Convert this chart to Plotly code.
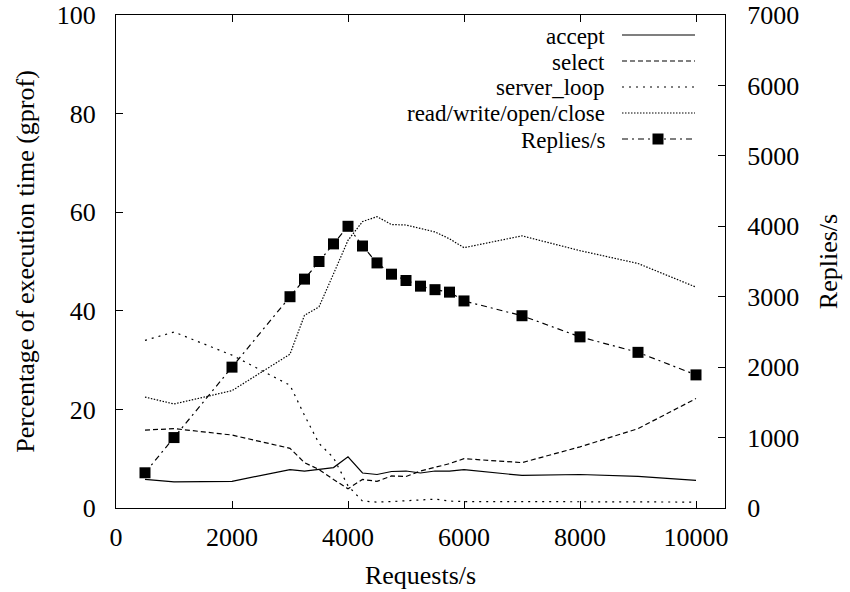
import plotly.graph_objects as go

requests = [500, 1000, 2000, 3000, 3250, 3500, 3750, 4000, 4250, 4500, 4750,
            5000, 5250, 5500, 5750, 6000, 7000, 8000, 9000, 10000]

accept = [5.8, 5.3, 5.4, 7.8, 7.5, 7.8, 8.2, 10.4, 7.1, 6.8, 7.4,
          7.5, 7.1, 7.5, 7.5, 7.8, 6.6, 6.8, 6.4, 5.6]
select = [15.8, 16.1, 14.8, 12.1, 9.2, 7.8, 5.8, 3.9, 5.8, 5.4, 6.5,
          6.4, 7.5, 8.3, 9.0, 10.0, 9.2, 12.4, 16.1, 22.2]
server_loop = [34.0, 35.7, 31.0, 24.9, 18.8, 13.1, 10.2, 4.5, 1.4, 1.2, 1.3,
               1.5, 1.6, 1.8, 1.4, 1.3, 1.3, 1.3, 1.3, 1.2]
rwoc = [22.5, 21.1, 23.8, 31.2, 39.1, 40.8, 47.5, 54.3, 58.1, 59.1, 57.5,
        57.4, 56.7, 56.0, 54.6, 52.8, 55.2, 52.2, 49.6, 44.8]
replies = [500, 1000, 2000, 3000, 3250, 3500, 3750, 4000, 3720, 3480, 3320,
           3230, 3150, 3100, 3065, 2940, 2730, 2430, 2210, 1890]

x_ticks = [0, 2000, 4000, 6000, 8000, 10000]
x_ticklabels = ["0", "2000", "4000", "6000", "8000", "10000"]
y_ticks = [0, 20, 40, 60, 80, 100]
y2_ticks = [0, 1000, 2000, 3000, 4000, 5000, 6000, 7000]

legend_names = ["accept", "select", "server_loop", "read/write/open/close", "Replies/s"]
legend_dash = ["solid", "5px,3px", "2px,5px", "1.5px,1.5px", "6px,4px,2px,4px"]

FONT = "'Liberation Serif', 'Times New Roman', Times, serif"
FS = 26
KEY_FS = 23
W, H = 850, 592
L, R, T, B = 116, 125, 15, 84
pw, ph = W - L - R, H - T - B

fig = go.Figure()
series = [accept, select, server_loop, rwoc]
for name, vals, dash in zip(legend_names[:4], series, legend_dash[:4]):
    fig.add_trace(go.Scatter(x=requests, y=vals, mode="lines", name=name,
                             line=dict(color="black", width=1.2, dash=dash),
                             showlegend=False))
fig.add_trace(go.Scatter(x=requests, y=replies, mode="lines+markers", name="Replies/s",
                         yaxis="y2",
                         line=dict(color="black", width=1.2, dash=legend_dash[4]),
                         marker=dict(symbol="square", size=11, color="black"),
                         showlegend=False))

# manual gnuplot-style key
rows_px = [35, 61, 87, 113, 139]
def px2x(px):
    return (px - L) / pw
def py2y(py):
    return (H - B - py) / ph

annotations = []
shapes = []
for name, dash, ry in zip(legend_names, legend_dash, rows_px):
    annotations.append(dict(x=px2x(606), y=py2y(ry + 1), xref="paper", yref="paper",
                            text=name, showarrow=False, xanchor="right", yanchor="middle",
                            borderpad=0,
                            font=dict(family=FONT, size=KEY_FS, color="black")))
    shapes.append(dict(type="line", xref="paper", yref="paper",
                       x0=px2x(622), x1=px2x(695), y0=py2y(ry), y1=py2y(ry),
                       line=dict(color="black", width=1.2, dash=dash)))
# marker in key
shapes.append(dict(type="rect", xref="paper", yref="paper",
                   x0=px2x(658 - 5.5), x1=px2x(658 + 5.5),
                   y0=py2y(rows_px[4] + 5.5), y1=py2y(rows_px[4] - 5.5),
                   fillcolor="black", line=dict(width=0)))

axis_font = dict(family=FONT, size=FS, color="black")
fig.update_layout(
    width=W, height=H,
    margin=dict(l=L, r=R, t=T, b=B, autoexpand=False),
    paper_bgcolor="white", plot_bgcolor="white",
    font=axis_font,
    xaxis=dict(range=[0, 10500], tickvals=x_ticks, ticktext=x_ticklabels,
               ticks="inside", ticklen=7, automargin=False,
               tickcolor="black", showline=True, linecolor="black", linewidth=1.3,
               mirror="ticks", showgrid=False, zeroline=False,
               tickfont=axis_font, ticklabelstandoff=6,
               title=dict(text="Requests/s", font=axis_font, standoff=14)),
    yaxis=dict(range=[0, 100], tickvals=y_ticks, ticks="inside", ticklen=7,
               automargin=False,
               tickcolor="black", showline=True, linecolor="black", linewidth=1.3,
               showgrid=False, zeroline=False, tickfont=axis_font, ticklabelstandoff=14,
               title=dict(text="Percentage of execution time (gprof)", font=axis_font,
                          standoff=14)),
    yaxis2=dict(range=[0, 7000], tickvals=y2_ticks, ticks="inside", ticklen=7,
                automargin=False,
                tickcolor="black", showline=True, linecolor="black", linewidth=1.3,
                overlaying="y", side="right", showgrid=False, zeroline=False,
                tickfont=axis_font, ticklabelstandoff=16,
                title=dict(text="Replies/s", font=axis_font, standoff=20)),
    annotations=annotations,
    shapes=shapes,
)

fig.write_html("out.html")
